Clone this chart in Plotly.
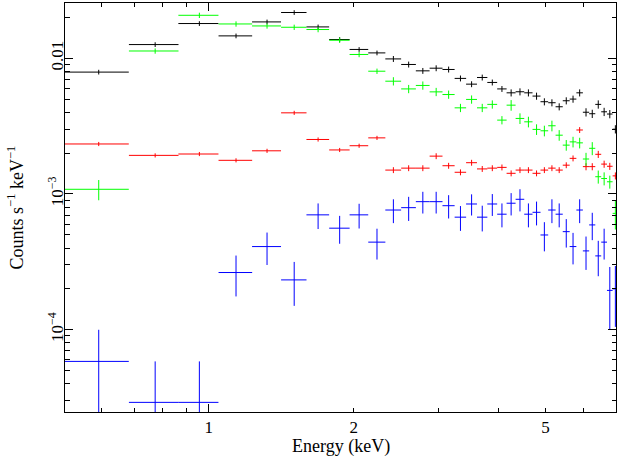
import plotly.graph_objects as go

# Energy bin centres (keV); every bin has the same width
energy_kev = [0.591, 0.774, 0.956, 1.139, 1.321, 1.504, 1.686, 1.869, 2.051, 2.234,
              2.416, 2.599, 2.781, 2.964, 3.146, 3.329, 3.511, 3.694, 3.876, 4.059,
              4.241, 4.424, 4.606, 4.789, 4.971, 5.154, 5.336, 5.519, 5.701, 5.884,
              6.066, 6.249, 6.431, 6.614, 6.796, 6.979]
BIN_HALF_WIDTH = 0.0913

# Count rates (counts s^-1 keV^-1) and 1-sigma errors for the four spectra
black_rate = [0.0079, 0.0126, 0.0180, 0.0146, 0.0185, 0.0217, 0.0170, 0.01373, 0.0116, 0.01094,
              0.00988, 0.00899, 0.00807, 0.00844, 0.00826, 0.0071, 0.00644, 0.00721, 0.00663, 0.00594,
              0.00556, 0.00566, 0.00556, 0.00526, 0.00478, 0.00470, 0.00439, 0.00486, 0.00500, 0.00556,
              0.00400, 0.00390, 0.00457, 0.00403, 0.00388, 0.00300]
black_rel_err = [0.04, 0.04, 0.04, 0.04, 0.04, 0.04, 0.04, 0.04, 0.04, 0.04,
                 0.05, 0.05, 0.05, 0.05, 0.05, 0.05, 0.05, 0.05, 0.05, 0.05,
                 0.06, 0.06, 0.06, 0.06, 0.06, 0.06, 0.06, 0.06, 0.06, 0.06,
                 0.07, 0.07, 0.07, 0.07, 0.07, 0.07]

red_rate = [0.002335, 0.001925, 0.00197, 0.00177, 0.00208, 0.00396, 0.00252, 0.00211, 0.002267, 0.00259,
            0.00150, 0.00155, 0.00155, 0.00190, 0.001615, 0.001445, 0.00170, 0.00153, 0.00155, 0.00157,
            0.00142, 0.00150, 0.00150, 0.00142, 0.00150, 0.00155, 0.00150, 0.00163, 0.00183, 0.00296,
            0.00159, 0.00159, 0.00196, 0.00166, 0.00160, 0.00136]
red_rel_err = [0.035, 0.035, 0.035, 0.035, 0.035, 0.035, 0.035, 0.035, 0.035, 0.035,
               0.05, 0.05, 0.05, 0.05, 0.05, 0.05, 0.05, 0.05, 0.05, 0.05,
               0.05, 0.05, 0.05, 0.05, 0.05, 0.05, 0.05, 0.05, 0.05, 0.05,
               0.06, 0.06, 0.06, 0.06, 0.06, 0.06]

green_rate = [0.001083, 0.0113, 0.0207, 0.01787, 0.01728, 0.0169, 0.01626, 0.01356, 0.01065, 0.00802,
              0.00677, 0.00594, 0.00630, 0.00565, 0.00540, 0.00431, 0.00497, 0.00431, 0.00457, 0.00350,
              0.00451, 0.00360, 0.00340, 0.00299, 0.00292, 0.00318, 0.00271, 0.00229, 0.00242, 0.00238,
              0.00181, 0.00217, 0.00134, 0.00130, 0.00123, 0.00072]
green_rel_err = [0.17, 0.045, 0.045, 0.045, 0.045, 0.045, 0.045, 0.045, 0.045, 0.045,
                 0.07, 0.07, 0.07, 0.07, 0.07, 0.07, 0.07, 0.07, 0.07, 0.07,
                 0.09, 0.09, 0.09, 0.09, 0.09, 0.09, 0.09, 0.09, 0.09, 0.09,
                 0.11, 0.11, 0.11, 0.11, 0.11, 0.24]

blue_rate = [5.85e-5, 2.92e-5, 2.92e-5, 2.64e-4, 4.10e-4, 2.33e-4, 7.02e-4, 5.60e-4, 7.02e-4, 4.42e-4,
             7.62e-4, 7.93e-4, 8.78e-4, 8.78e-4, 8.20e-4, 6.75e-4, 8.44e-4, 6.75e-4, 8.44e-4, 7.10e-4,
             8.55e-4, 9.14e-4, 7.10e-4, 7.33e-4, 4.99e-4, 7.62e-4, 7.10e-4, 5.28e-4, 4.10e-4, 7.62e-4,
             3.81e-4, 5.92e-4, 3.50e-4, 4.42e-4, 1.95e-4, 2.00e-4]
blue_err = [4.15e-5, 2.93e-5, 2.93e-5, 8.8e-5, 1.10e-4, 8.3e-5, 1.50e-4, 1.30e-4, 1.45e-4, 1.13e-4,
            1.52e-4, 1.60e-4, 1.60e-4, 1.60e-4, 1.60e-4, 1.40e-4, 1.50e-4, 1.45e-4, 1.55e-4, 1.42e-4,
            1.60e-4, 1.70e-4, 1.42e-4, 1.46e-4, 1.21e-4, 1.52e-4, 1.42e-4, 1.25e-4, 1.07e-4, 1.52e-4,
            1.05e-4, 1.35e-4, 1.02e-4, 1.13e-4, 9.5e-5, 9.5e-5]

x_major = [1, 2, 5]
x_minor = [0.6, 0.7, 0.8, 0.9, 3, 4, 6, 7]
y_major = [1e-4, 1e-3, 1e-2]
y_major_text = ["10<sup>\u22124</sup>", "10<sup>\u22123</sup>", "0.01"]
y_minor = [m * d for d in (1e-5, 1e-4, 1e-3, 1e-2) for m in range(2, 10)]

FONT = "Liberation Serif"


def with_abs(rates, rel):
    return [r * e for r, e in zip(rates, rel)]


spectra = [
    ("black", black_rate, with_abs(black_rate, black_rel_err), "#000000"),
    ("red", red_rate, with_abs(red_rate, red_rel_err), "#ff0000"),
    ("green", green_rate, with_abs(green_rate, green_rel_err), "#00ff00"),
    ("blue", blue_rate, blue_err, "#0000ff"),
]

fig = go.Figure()
for name, rate, err, color in spectra:
    fig.add_trace(go.Scatter(
        x=energy_kev, y=rate, name=name, mode="markers",
        marker=dict(size=1, color=color, opacity=0),
        error_x=dict(type="constant", value=BIN_HALF_WIDTH, width=0, thickness=1, color=color),
        error_y=dict(type="data", array=err, width=0, thickness=1, color=color),
        showlegend=False, hoverinfo="skip",
    ))

# overlay axis only used to give the decade tick at 1 keV its longer length
fig.add_trace(go.Scatter(x=[1], y=[1e-3], xaxis="x2", mode="markers",
                         marker=dict(size=1, opacity=0), showlegend=False, hoverinfo="skip"))

x_range = [-0.2984, 0.8451]
y_range = [-4.6055, -1.5935]

fig.update_layout(
    width=617, height=461,
    margin=dict(l=65, r=1, t=3, b=49),
    paper_bgcolor="white", plot_bgcolor="white",
    font=dict(family=FONT, size=16, color="black"),
    xaxis=dict(
        type="log", range=x_range, showgrid=False, zeroline=False,
        showline=True, linecolor="black", linewidth=1, mirror="ticks",
        ticks="inside", ticklen=4, tickwidth=1, tickcolor="black",
        tickmode="array", tickvals=x_major, ticktext=[str(v) for v in x_major],
        tickfont=dict(family=FONT, size=17),
        minor=dict(tickmode="array", tickvals=x_minor, ticks="inside", ticklen=4,
                   tickwidth=1, tickcolor="black", showgrid=False),
    ),
    xaxis2=dict(
        type="log", range=x_range, overlaying="x", anchor="y", side="bottom",
        showgrid=False, zeroline=False, showline=False, mirror="ticks",
        ticks="inside", ticklen=8, tickwidth=1, tickcolor="black",
        tickmode="array", tickvals=[1], showticklabels=False,
    ),
    yaxis=dict(
        type="log", range=y_range, showgrid=False, zeroline=False,
        showline=True, linecolor="black", linewidth=1, mirror="ticks",
        ticks="inside", ticklen=8, tickwidth=1, tickcolor="black",
        tickmode="array", tickvals=y_major, ticktext=y_major_text,
        tickangle=-90, tickfont=dict(family=FONT, size=17),
        ticklabelstandoff=-6,
        minor=dict(tickmode="array", tickvals=y_minor, ticks="inside", ticklen=4.5,
                   tickwidth=1, tickcolor="black", showgrid=False),
    ),
    annotations=[
        dict(text="Energy (keV)", xref="paper", yref="paper", x=0.5, y=0,
             yshift=-34, yanchor="middle", showarrow=False,
             font=dict(family=FONT, size=18)),
        dict(text="Counts s<sup>\u22121</sup> keV<sup>\u22121</sup>", xref="paper", yref="paper",
             x=0, y=0.5, xshift=-49, xanchor="center", textangle=-90, showarrow=False,
             font=dict(family=FONT, size=18)),
    ],
)

fig.write_html("out.html")
